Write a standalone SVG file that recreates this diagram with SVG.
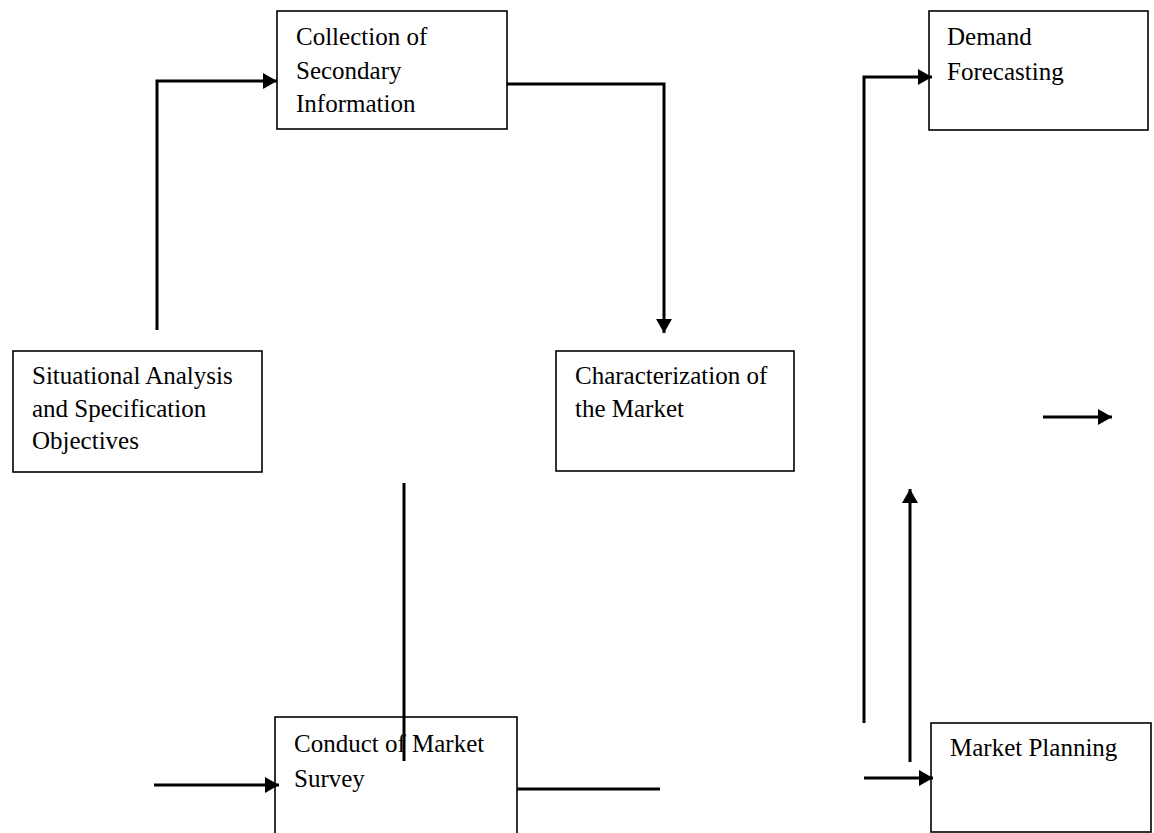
<svg xmlns="http://www.w3.org/2000/svg" width="1154" height="833" viewBox="0 0 1154 833">
  <style>
    .box { fill: #ffffff; stroke: #000000; stroke-width: 1.6; }
    .lbl { font-family: "Liberation Serif", "Times New Roman", serif; font-size: 25px; fill: #000000; }
    .wire { fill: none; stroke: #000000; stroke-width: 3; }
  </style>
  <defs>
    <marker id="head" viewBox="0 0 14 16" refX="14" refY="8" markerWidth="14" markerHeight="16" markerUnits="userSpaceOnUse" orient="auto">
      <path d="M0,0 L14,8 L0,16 Z" fill="#000000"/>
    </marker>
  </defs>
  <rect width="1154" height="833" fill="#ffffff"/>

  <g id="node-collection">
    <rect class="box" x="277" y="11" width="230" height="118"/>
    <text class="lbl" x="296" y="45">Collection of</text>
    <text class="lbl" x="296" y="79">Secondary</text>
    <text class="lbl" x="296" y="112">Information</text>
  </g>

  <g id="node-situational">
    <rect class="box" x="13" y="351" width="249" height="121"/>
    <text class="lbl" x="32" y="384">Situational Analysis</text>
    <text class="lbl" x="32" y="417">and Specification</text>
    <text class="lbl" x="32" y="449">Objectives</text>
  </g>

  <g id="node-characterization">
    <rect class="box" x="556" y="351" width="238" height="120"/>
    <text class="lbl" x="575" y="384">Characterization of</text>
    <text class="lbl" x="575" y="417">the Market</text>
  </g>

  <g id="node-demand">
    <rect class="box" x="929" y="11" width="219" height="119"/>
    <text class="lbl" x="947" y="45">Demand</text>
    <text class="lbl" x="947" y="80">Forecasting</text>
  </g>

  <g id="node-survey">
    <rect class="box" x="275" y="717" width="242" height="130"/>
    <text class="lbl" x="294" y="752">Conduct of Market</text>
    <text class="lbl" x="294" y="787">Survey</text>
  </g>

  <g id="node-planning">
    <rect class="box" x="931" y="723" width="220" height="109"/>
    <text class="lbl" x="950" y="756">Market Planning</text>
  </g>

  <g id="connectors">
    <path class="wire" d="M157,330 V81 H277" marker-end="url(#head)"/>
    <path class="wire" d="M507,84 H664 V333" marker-end="url(#head)"/>
    <path class="wire" d="M404,483 V761"/>
    <path class="wire" d="M154,785 H279" marker-end="url(#head)"/>
    <path class="wire" d="M517,789 H660"/>
    <path class="wire" d="M864,723 V77 H932" marker-end="url(#head)"/>
    <path class="wire" d="M864,778 H933" marker-end="url(#head)"/>
    <path class="wire" d="M910,762 V489" marker-end="url(#head)"/>
    <path class="wire" d="M1043,417 H1112" marker-end="url(#head)"/>
  </g>
</svg>
